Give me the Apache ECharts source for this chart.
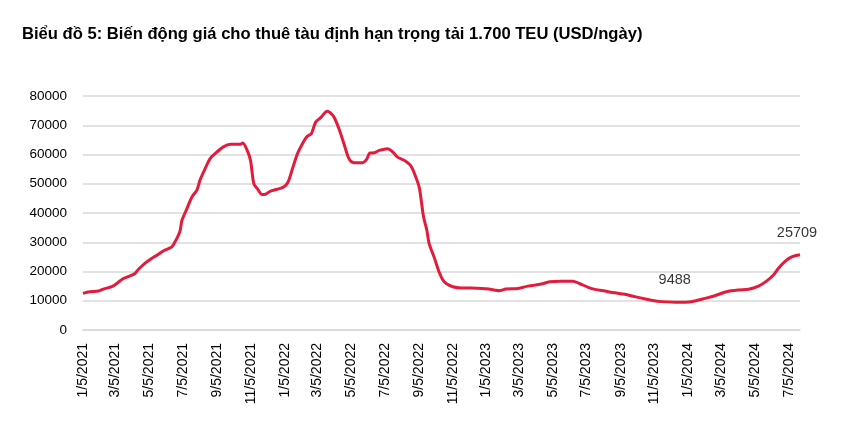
<!DOCTYPE html>
<html><head><meta charset="utf-8">
<script src="https://cdn.jsdelivr.net/npm/echarts@6/dist/echarts.min.js"></script>
<style>html,body{margin:0;padding:0;background:#fff}#c{width:850px;height:430px}</style>
</head><body><div id="c"></div>
<script>
const titleText = 'Biểu đồ 5: Biến động giá cho thuê tàu định hạn trọng tải 1.700 TEU (USD/ngày)';
const dates = [
'2021-01-05','2021-01-17','2021-02-02','2021-02-11','2021-02-26','2021-03-07','2021-03-19','2021-03-31','2021-04-09','2021-04-15',
'2021-04-27','2021-05-07','2021-05-19','2021-05-31','2021-06-12','2021-06-17','2021-06-29','2021-07-03','2021-07-12','2021-07-21',
'2021-07-30','2021-08-05','2021-08-14','2021-08-23','2021-09-01','2021-09-16','2021-09-29','2021-10-17','2021-10-21','2021-10-29',
'2021-11-04','2021-11-10','2021-11-16','2021-11-25','2021-12-01','2021-12-10','2021-12-22','2022-01-03','2022-01-11','2022-01-19',
'2022-01-28','2022-02-06','2022-02-15','2022-02-22','2022-03-02','2022-03-11','2022-03-23','2022-03-28','2022-04-04','2022-04-13',
'2022-04-22','2022-05-01','2022-05-10','2022-05-26','2022-06-02','2022-06-08','2022-06-16','2022-06-25','2022-07-10','2022-07-19',
'2022-07-28','2022-08-09','2022-08-21','2022-08-30','2022-09-05','2022-09-08','2022-09-13','2022-09-19','2022-09-23','2022-10-02',
'2022-10-11','2022-10-18','2022-10-24','2022-11-05','2022-11-20','2022-12-08','2023-01-04','2023-01-19','2023-01-28','2023-02-09',
'2023-03-03','2023-03-21','2023-04-14','2023-04-29','2023-05-20','2023-06-10','2023-06-22','2023-07-08','2023-07-20','2023-08-07',
'2023-08-25','2023-09-12','2023-09-30','2023-10-15','2023-10-30','2023-11-18','2023-12-12','2023-12-24','2024-01-07','2024-01-17',
'2024-02-04','2024-02-22','2024-03-14','2024-04-05','2024-04-23','2024-05-11','2024-05-26','2024-06-07','2024-06-16','2024-06-28',
'2024-07-10','2024-07-25'
];
const rates = [
12500,13100,13300,14000,14800,15900,17600,18500,19300,20700,
22800,24200,25600,27100,28100,29000,33500,37500,41500,45500,
47800,51400,55200,58600,60300,62600,63500,63500,63900,61400,
58000,50000,48400,46300,46400,47500,48100,48900,50600,55200,
60300,63700,66300,67100,71100,72600,74800,74300,72800,68800,
63700,58600,57200,57200,58300,60500,60600,61400,62000,60900,
59100,58000,56100,52300,48900,45500,38700,34100,29600,25000,
19900,17100,15900,14800,14400,14400,14100,13700,13400,14000,
14200,15000,15700,16500,16700,16700,15900,14600,13900,13300,
12700,12200,11400,10800,10200,9700,9500,9488,9600,9900,
10800,11700,13100,13700,13900,15000,16800,18800,21100,23500,
25000,25709
];
const annotated = ['2023-12-24','2024-07-25'];
const tickDates = ['2021-01-05','2021-03-05','2021-05-05','2021-07-05','2021-09-05','2021-11-05',
'2022-01-05','2022-03-05','2022-05-05','2022-07-05','2022-09-05','2022-11-05',
'2023-01-05','2023-03-05','2023-05-05','2023-07-05','2023-09-05','2023-11-05',
'2024-01-05','2024-03-05','2024-05-05','2024-07-05'];
const yMin = 0, yMax = 80000, yStep = 10000;

function ts(s){const p=s.split('-').map(Number);return Date.UTC(p[0],p[1]-1,p[2]);}
const FONT = "'Liberation Sans',Arial,sans-serif";
const lineData = dates.map((d,i)=>[ts(d), rates[i]]);
const noteData = dates.map((d,i)=>({d,i})).filter(o=>annotated.includes(o.d)).map(o=>({
  value:[ts(o.d), rates[o.i]],
  label:{offset: o.i===rates.length-1 ? [-3,0] : [-7,0]}
}));
const chart = echarts.init(document.getElementById('c'), null, {renderer:'canvas'});
chart.setOption({
  animation:false,
  backgroundColor:'#fff',
  title:{text:titleText, left:17, top:21, textStyle:{fontFamily:FONT, fontWeight:'bold', fontSize:16.6, color:'#000'}},
  grid:{left:83, right:50, top:96, bottom:100},
  xAxis:{type:'value', min:ts(dates[0]), max:ts(dates[dates.length-1]), scale:true,
    splitLine:{show:false}, axisTick:{show:false},
    axisLine:{lineStyle:{color:'#d9d9d9', width:1.5}},
    axisLabel:{customValues: tickDates.map(ts), rotate:90, margin:13, color:'#000', fontFamily:FONT, fontSize:14,
      hideOverlap:false, showMinLabel:true, showMaxLabel:true,
      formatter:(v)=>{const d=new Date(v);return (d.getUTCMonth()+1)+'/'+d.getUTCDate()+'/'+d.getUTCFullYear();}}
  },
  yAxis:{type:'value', min:yMin, max:yMax, interval:yStep,
    axisLine:{show:false}, axisTick:{show:false},
    splitLine:{lineStyle:{color:'#d9d9d9', width:1.5}},
    axisLabel:{margin:16, color:'#000', fontFamily:FONT, fontSize:13.5, formatter:(v)=>String(v)}
  },
  series:[
    {type:'line', data:lineData, showSymbol:false, symbol:'none', smooth:0.3,
      lineStyle:{color:'#E31B3C', width:3}, itemStyle:{color:'#E31B3C'}},
    {type:'scatter', data:noteData, symbol:'circle', symbolSize:1, itemStyle:{color:'rgba(255,255,255,0)'},
      z:5, silent:true,
      label:{show:true, position:'top', distance:14, color:'#000', fontFamily:FONT, fontSize:14.5,
        formatter:(p)=>String(p.value[1])}}
  ]
});
</script></body></html>
